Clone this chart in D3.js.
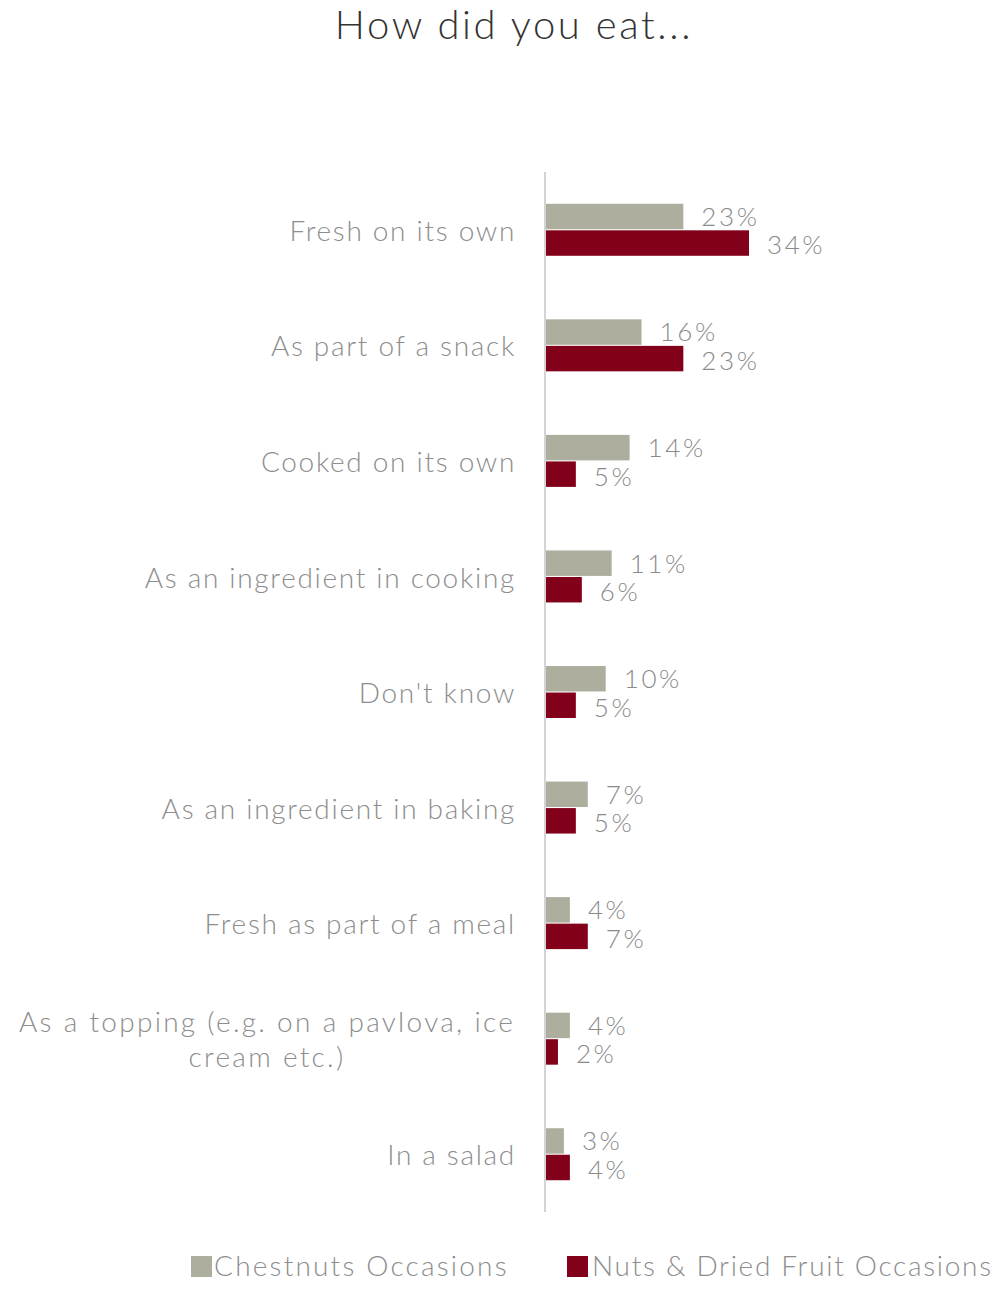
<!DOCTYPE html>
<html>
<head>
<meta charset="utf-8">
<script src="https://cdn.jsdelivr.net/npm/d3@7"></script>
<style>
  html, body { margin: 0; padding: 0; background: #fff; }
  svg text { font-family: "Lato", "Open Sans", sans-serif; }
</style>
</head>
<body>
<svg id="chart" width="999" height="1291"></svg>
<script>
const categories = [
  "Fresh on its own",
  "As part of a snack",
  "Cooked on its own",
  "As an ingredient in cooking",
  "Don't know",
  "As an ingredient in baking",
  "Fresh as part of a meal",
  "As a topping (e.g. on a pavlova, ice cream etc.)",
  "In a salad"
];
const chestnuts = [23, 16, 14, 11, 10, 7, 4, 4, 3];
const nutsDried = [34, 23, 5, 6, 5, 5, 7, 2, 4];
const seriesNames = ["Chestnuts Occasions", "Nuts & Dried Fruit Occasions"];
const seriesColors = ["#aeae9e", "#820019"];

const svg = d3.select("#chart");
const axisX = 545, plotTop = 172, plotBottom = 1212;

const y = d3.scaleBand().domain(categories).range([plotTop, plotBottom]).paddingInner(0).paddingOuter(0);
const x = d3.scaleLinear().domain([0, 34]).range([axisX + 1, axisX + 1 + 203]);

const series = [chestnuts, nutsDried];
const sub = d3.scaleBand().domain([0, 1]).range([y.bandwidth() / 2 - 26, y.bandwidth() / 2 + 26]).paddingInner(0.04);

// title
svg.append("text").attr("x", 514).attr("y", 39).attr("text-anchor", "middle")
  .attr("font-size", 40).attr("font-weight", 300).attr("fill", "#333")
  .attr("letter-spacing", 2.6).text("How did you eat...");

// axis line
svg.append("line").attr("x1", axisX).attr("x2", axisX).attr("y1", plotTop).attr("y2", plotBottom)
  .attr("stroke", "#d4d4d4").attr("stroke-width", 2);

const groups = svg.selectAll("g.cat").data(categories).join("g")
  .attr("class", "cat").attr("transform", d => `translate(0,${y(d)})`);

series.forEach((vals, si) => {
  groups.append("rect")
    .attr("x", x(0))
    .attr("y", sub(si))
    .attr("width", (d, i) => x(vals[i]) - x(0))
    .attr("height", sub.bandwidth())
    .attr("fill", seriesColors[si]);
  groups.append("text")
    .attr("x", (d, i) => x(vals[i]) + 18)
    .attr("y", sub(si) + sub.bandwidth() / 2 + (si === 0 ? 0 : 2))
    .attr("dy", "0.36em")
    .attr("font-size", 26).attr("font-weight", 300).attr("fill", "#8a8a8a")
    .attr("letter-spacing", 2.6)
    .text((d, i) => vals[i] + "%");
});

// category labels, wrapped where needed
const labelWrap = {
  "As a topping (e.g. on a pavlova, ice cream etc.)": ["As a topping (e.g. on a pavlova, ice", "cream etc.)"]
};
groups.each(function(d) {
  const lines = labelWrap[d] || [d];
  const t = d3.select(this).append("text")
    .attr("text-anchor", lines.length > 1 ? "middle" : "end")
    .attr("font-size", 28).attr("font-weight", 300).attr("fill", "#8d8d8d")
    .attr("letter-spacing", lines.length > 1 ? 2.3 : 1.7);
  const cx = lines.length > 1 ? 267 : 516;
  const mid = y.bandwidth() / 2 + 1;
  lines.forEach((ln, k) => {
    t.append("tspan").attr("x", cx)
      .attr("y", mid + (k - (lines.length - 1) / 2) * 35)
      .attr("dy", "0.36em").text(ln);
  });
});

// legend
const legend = svg.append("g");
const legendPos = [{sx: 191, tx: 214, ls: 2.2}, {sx: 567, tx: 592, ls: 1.7}];
seriesNames.forEach((name, i) => {
  legend.append("rect").attr("x", legendPos[i].sx).attr("y", 1256).attr("width", 21).attr("height", 21)
    .attr("fill", seriesColors[i]);
  legend.append("text").attr("x", legendPos[i].tx).attr("y", 1266).attr("dy", "0.36em")
    .attr("font-size", 28).attr("font-weight", 300).attr("fill", "#8d8d8d").attr("letter-spacing", legendPos[i].ls)
    .text(name);
});
</script>
</body>
</html>
